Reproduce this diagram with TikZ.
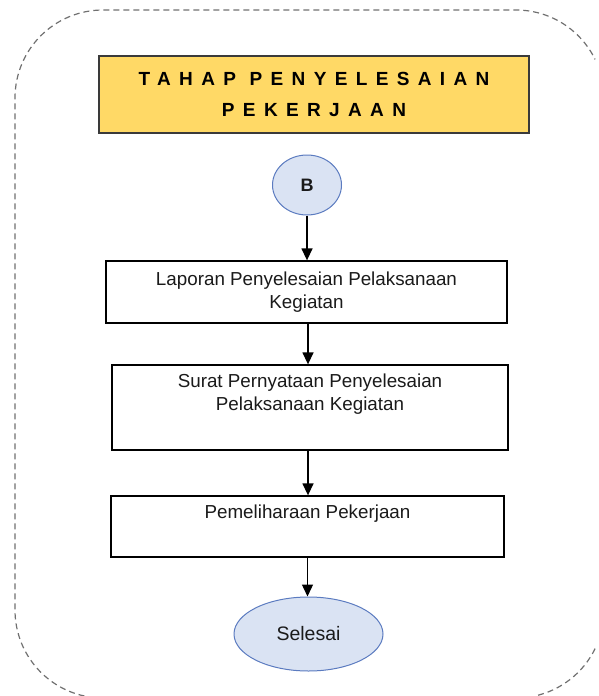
\documentclass[tikz,border=0pt]{standalone}
\usepackage{fontspec}
\setmainfont{Liberation Sans}
\newfontfamily\spacedfont[LetterSpace=44]{Liberation Sans}
\usetikzlibrary{shapes.geometric,arrows.meta}

\definecolor{titlefill}{HTML}{FFD966}
\definecolor{titledraw}{HTML}{3A3A3A}
\definecolor{termfill}{HTML}{DAE3F3}
\definecolor{termdraw}{HTML}{5B7BC0}
\definecolor{framegray}{HTML}{707070}
\definecolor{ink}{HTML}{1A1A1A}

\tikzset{
  titlebox/.style={draw=titledraw, line width=1.4pt, fill=titlefill,
    minimum width=430pt, minimum height=77pt, inner sep=0pt, align=center,
    font=\spacedfont\bfseries\fontsize{19}{31}\selectfont},
  stepbox/.style={draw=black, line width=1.3pt, fill=white, inner sep=0pt,
    align=center, text=ink, font=\fontsize{18.8}{23}\selectfont},
  terminal/.style={ellipse, draw=termdraw, line width=1pt, fill=termfill,
    inner sep=0pt, text=ink},
  flow/.style={line width=1.4pt, -{Triangle[length=12pt,width=11pt]}},
  frame/.style={draw=framegray, line width=1.2pt, dash pattern=on 6pt off 4pt}
}

\begin{document}
\begin{tikzpicture}[x=1pt, y=-1pt]
  \useasboundingbox (0,0) rectangle (598,696);

  % outer dashed container with large rounded corners;
  % only the part that lies on the page is stroked
  \draw[frame] (84.4,696) arc[start angle=257.8, end angle=180, radius=88pt]
    -- (15,98) arc[start angle=180, end angle=90, radius=88pt]
    -- (516,10) arc[start angle=90, end angle=26, radius=88pt];
  \draw[frame] (595.1,648.6) arc[start angle=-26, end angle=-77.8, radius=88pt];

  % heading
  \node[titlebox] (title) at (314,94.5) {TAHAP PENYELESAIAN\\PEKERJAAN};

  % start connector
  \node[terminal, minimum width=69pt, minimum height=60pt,
        font=\bfseries\fontsize{18}{22}\selectfont] (start) at (307,185) {B};

  % steps
  \node[stepbox, minimum width=401pt, minimum height=62pt] (laporan) at (306.5,292)
    {Laporan Penyelesaian Pelaksanaan\\Kegiatan};
  \node[stepbox, minimum width=396pt, minimum height=85pt] (surat) at (310,407.5)
    {Surat Pernyataan Penyelesaian\\Pelaksanaan Kegiatan\\\strut};
  \node[stepbox, minimum width=393pt, minimum height=61pt] (pemeliharaan) at (307.5,526.5)
    {Pemeliharaan Pekerjaan\\\strut};

  % end
  \node[terminal, minimum width=149pt, minimum height=74pt,
        font=\fontsize{19.5}{23}\selectfont] (selesai) at (308.5,634) {Selesai};

  % flow arrows
  \draw[flow] (start.south) -- (start.south |- laporan.north);
  \draw[flow] ([xshift=1.5pt]laporan.south) -- ([xshift=-2pt]surat.north);
  \draw[flow] ([xshift=-2pt]surat.south) -- ([xshift=0.5pt]pemeliharaan.north);
  \draw[flow] (pemeliharaan.south) -- (pemeliharaan.south |- selesai.north);
\end{tikzpicture}
\end{document}
